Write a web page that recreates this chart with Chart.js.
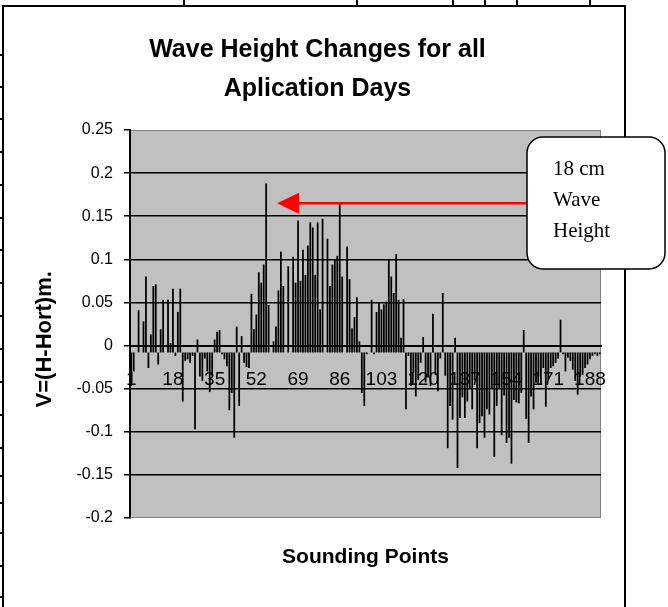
<!DOCTYPE html>
<html>
<head>
<meta charset="utf-8">
<script src="https://cdn.jsdelivr.net/npm/chart.js@4.4.0/dist/chart.umd.min.js"></script>
<style>
  html, body { margin: 0; padding: 0; background: #fff; }
  #wrap { width: 668px; height: 607px; }
</style>
</head>
<body>
<div id="wrap"><canvas id="waveChart" width="668" height="607"></canvas></div>
<script>
// sounding points 1..192 (just the running number of each point)
const pointCount = 192;
const soundingPoints = Array.from({ length: pointCount }, (_, i) => String(i + 1));
const tickLabels = ["1", "18", "35", "52", "69", "86", "103", "120", "137", "154", "171", "188"];
const titleLines = ["Wave Height Changes for all", "Aplication Days"];
const calloutLines = ["18 cm", "Wave", "Height"];

// V = (H - Hort) in m
const heightChange = [
  -0.047, -0.030, -0.008, 0.041, -0.008, 0.028, 0.080, -0.026, 0.013, 0.069, 0.071, -0.022,
  0.019, 0.053, -0.008, 0.053, 0.003, 0.066, -0.012, 0.039, 0.066, -0.065, -0.018, -0.016,
  -0.020, -0.012, -0.097, 0.007, -0.036, -0.041, -0.015, -0.030, -0.054, -0.035, 0.007, 0.016,
  0.018, -0.010, -0.016, -0.024, -0.075, -0.055, -0.107, 0.022, -0.070, 0.011, -0.020, -0.025,
  -0.026, 0.060, 0.019, 0.036, 0.085, 0.073, 0.094, 0.188, 0.047, -0.008, 0.005, 0.022,
  0.064, 0.109, 0.069, -0.008, 0.092, -0.008, 0.103, 0.073, 0.145, 0.075, 0.111, 0.082,
  0.116, 0.143, 0.137, 0.082, 0.143, 0.042, 0.147, -0.008, 0.124, 0.069, 0.094, 0.100,
  0.104, 0.164, 0.080, -0.008, 0.115, 0.077, 0.020, 0.033, 0.056, 0.005, -0.055, -0.070,
  -0.010, -0.008, 0.053, -0.010, 0.039, 0.049, 0.042, 0.048, 0.051, 0.100, 0.080, 0.061,
  0.106, 0.053, 0.009, 0.054, -0.074, -0.012, -0.047, -0.032, -0.059, -0.040, -0.020, 0.010,
  -0.043, -0.037, -0.047, 0.037, -0.034, -0.053, -0.015, 0.061, -0.035, -0.119, -0.070, -0.086,
  0.009, -0.142, -0.084, -0.060, -0.084, -0.065, -0.050, -0.074, -0.040, -0.119, -0.090, -0.082,
  -0.107, -0.074, -0.080, -0.050, -0.129, -0.070, -0.050, -0.104, -0.058, -0.113, -0.107, -0.137,
  -0.063, -0.066, -0.067, -0.055, 0.018, -0.085, -0.113, -0.059, -0.074, -0.043, -0.036, -0.045,
  -0.026, -0.071, -0.040, -0.026, -0.024, -0.020, -0.015, 0.030, -0.010, -0.030, -0.014, -0.018,
  -0.028, -0.041, -0.057, -0.036, -0.034, -0.026, -0.022, -0.016, -0.012, -0.010, -0.012, -0.010
];

const sans = "'Liberation Sans', Arial, sans-serif";

// white page, the table lines of the document and the grey plot area
const pageFrame = {
  id: "pageFrame",
  beforeDraw(chart) {
    const { ctx, width, height, chartArea: a } = chart;
    ctx.save();
    ctx.fillStyle = "#fff";
    ctx.fillRect(0, 0, width, height);
    ctx.strokeStyle = "#000";
    ctx.lineWidth = 2;
    ctx.beginPath();
    ctx.moveTo(3, height);
    ctx.lineTo(3, 6);
    ctx.lineTo(625, 6);
    ctx.lineTo(625, height);
    [184, 357, 453, 485, 517, 590].forEach(x => { ctx.moveTo(x, 0); ctx.lineTo(x, 6); });
    [55, 87, 119, 152, 185, 218, 250, 283, 316, 349, 382, 415, 448, 476, 503, 533, 566, 597]
      .forEach(y => { ctx.moveTo(0, y); ctx.lineTo(3, y); });
    ctx.stroke();
    ctx.fillStyle = "#c0c0c0";
    ctx.fillRect(a.left, a.top, a.right - a.left, a.bottom - a.top);
    ctx.strokeStyle = "#808080";
    ctx.lineWidth = 1;
    ctx.strokeRect(a.left + 0.5, a.top + 0.5, a.right - a.left - 1, a.bottom - a.top - 1);
    ctx.restore();
  }
};

// red arrow and the rounded note box
const callout = {
  id: "callout",
  afterDraw(chart) {
    const { ctx, chartArea: a } = chart;
    const y = chart.scales.y.getPixelForValue(0.165);
    const tipX = a.left + 147;
    const headX = tipX + 22;
    const bx = 527, by = 137, bw = 138, bh = 132, r = 16;
    ctx.save();
    ctx.strokeStyle = "#ff0000";
    ctx.lineWidth = 2.5;
    ctx.beginPath();
    ctx.moveTo(bx, y);
    ctx.lineTo(headX, y);
    ctx.stroke();
    ctx.fillStyle = "#ff0000";
    ctx.beginPath();
    ctx.moveTo(tipX, y);
    ctx.lineTo(headX, y - 10.5);
    ctx.lineTo(headX, y + 10.5);
    ctx.closePath();
    ctx.fill();

    ctx.beginPath();
    ctx.moveTo(bx + r, by);
    ctx.arcTo(bx + bw, by, bx + bw, by + bh, r);
    ctx.arcTo(bx + bw, by + bh, bx, by + bh, r);
    ctx.arcTo(bx, by + bh, bx, by, r);
    ctx.arcTo(bx, by, bx + bw, by, r);
    ctx.closePath();
    ctx.fillStyle = "#fff";
    ctx.fill();
    ctx.strokeStyle = "#000";
    ctx.lineWidth = 1.5;
    ctx.stroke();

    ctx.fillStyle = "#000";
    ctx.font = "21px 'Liberation Serif', 'Times New Roman', serif";
    ctx.textBaseline = "middle";
    calloutLines.forEach((t, i) => ctx.fillText(t, 553, 169 + i * 31));
    ctx.restore();
  }
};

const isEdge = v => Math.abs(v - 0.25) < 1e-6 || Math.abs(v + 0.2) < 1e-6;

new Chart(document.getElementById("waveChart"), {
  type: "bar",
  data: {
    labels: soundingPoints,
    datasets: [{
      data: heightChange,
      backgroundColor: "#000",
      borderWidth: 0,
      barPercentage: 0.72,
      categoryPercentage: 1,
      base: -0.008
    }]
  },
  options: {
    responsive: false,
    animation: false,
    layout: { padding: { left: 34, right: 67, top: 0, bottom: 0 } },
    plugins: {
      legend: { display: false },
      tooltip: { enabled: false },
      title: {
        display: true,
        text: titleLines,
        color: "#000",
        font: { family: sans, size: 25, weight: "bold", lineHeight: 1.56 },
        padding: { top: 30.5, bottom: 21.5 }
      }
    },
    scales: {
      x: {
        type: "category",
        position: { y: 0 },
        offset: true,
        grid: { display: false, drawTicks: false },
        border: { display: true, color: "#000", width: 2 },
        ticks: {
          autoSkip: false,
          maxRotation: 0,
          minRotation: 0,
          color: "#000",
          font: { family: sans, size: 19 },
          padding: 23,
          callback: function (v) {
            const l = this.getLabelForValue(v);
            return tickLabels.includes(l) ? l : "";
          }
        }
      },
      x2: {
        type: "category",
        position: "bottom",
        grid: { display: false, drawTicks: false },
        border: { display: false },
        ticks: { display: false },
        title: {
          display: true,
          text: "Sounding Points",
          color: "#000",
          font: { family: sans, size: 21, weight: "bold", lineHeight: 1.2 },
          padding: { top: 26.4, bottom: 37.4 }
        }
      },
      y: {
        min: -0.2,
        max: 0.25,
        ticks: {
          stepSize: 0.05,
          color: "#000",
          font: { family: sans, size: 16 },
          padding: 11,
          callback: v => String(parseFloat(Number(v).toFixed(2)))
        },
        grid: {
          color: c => (c.tick && isEdge(c.tick.value)) ? "rgba(0,0,0,0)" : "#000",
          lineWidth: 1.5,
          tickColor: "#000",
          tickLength: 6
        },
        border: { display: true, color: "#000", width: 2 },
        title: {
          display: true,
          // trailing spaces push the rotated text a little lower, as in the original
          text: "V=(H-Hort)m.     ",
          color: "#000",
          font: { family: sans, size: 22, weight: "bold", lineHeight: 1 },
          padding: { top: 0, bottom: 0 }
        },
        afterFit: s => { s.width = 96; }
      }
    }
  },
  plugins: [pageFrame, callout]
});
</script>
</body>
</html>
